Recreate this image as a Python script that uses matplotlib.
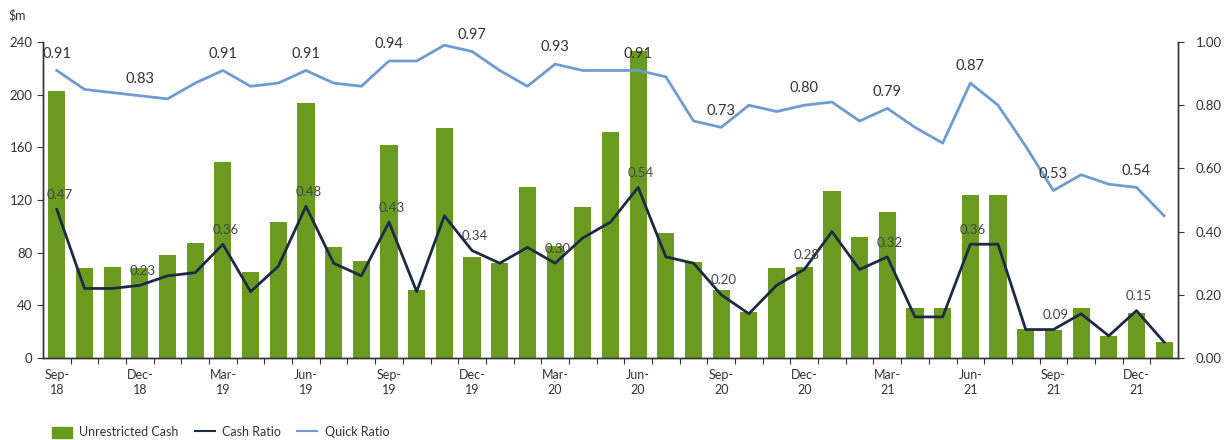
import numpy as np
import matplotlib.pyplot as plt
from matplotlib.patches import Patch
from matplotlib.lines import Line2D

plt.rcParams['font.family'] = ['Lato', 'DejaVu Sans']

# monthly points, Sep-18 .. Jan-22
months = ['Sep-18', 'Oct-18', 'Nov-18', 'Dec-18', 'Jan-19', 'Feb-19', 'Mar-19', 'Apr-19',
          'May-19', 'Jun-19', 'Jul-19', 'Aug-19', 'Sep-19', 'Oct-19', 'Nov-19', 'Dec-19',
          'Jan-20', 'Feb-20', 'Mar-20', 'Apr-20', 'May-20', 'Jun-20', 'Jul-20', 'Aug-20',
          'Sep-20', 'Oct-20', 'Nov-20', 'Dec-20', 'Jan-21', 'Feb-21', 'Mar-21', 'Apr-21',
          'May-21', 'Jun-21', 'Jul-21', 'Aug-21', 'Sep-21', 'Oct-21', 'Nov-21', 'Dec-21',
          'Jan-22']

unrestricted_cash = [203, 68, 69, 68, 78, 87, 149, 65, 103, 194, 84, 74, 162, 52, 175, 77,
                     72, 130, 85, 115, 172, 233, 95, 73, 52, 35, 68, 69, 127, 92, 111, 38,
                     38, 124, 124, 22, 21, 38, 17, 34, 12]

cash_ratio = [0.47, 0.22, 0.22, 0.23, 0.26, 0.27, 0.36, 0.21, 0.29, 0.48, 0.30, 0.26, 0.43,
              0.21, 0.45, 0.34, 0.30, 0.35, 0.30, 0.38, 0.43, 0.54, 0.32, 0.30, 0.20, 0.14,
              0.23, 0.28, 0.40, 0.28, 0.32, 0.13, 0.13, 0.36, 0.36, 0.09, 0.09, 0.14, 0.07,
              0.15, 0.05]

quick_ratio = [0.91, 0.85, 0.84, 0.83, 0.82, 0.87, 0.91, 0.86, 0.87, 0.91, 0.87, 0.86, 0.94,
               0.94, 0.99, 0.97, 0.91, 0.86, 0.93, 0.91, 0.91, 0.91, 0.89, 0.75, 0.73, 0.80,
               0.78, 0.80, 0.81, 0.75, 0.79, 0.73, 0.68, 0.87, 0.80, 0.67, 0.53, 0.58, 0.55,
               0.54, 0.45]

x = np.arange(len(months))
quarter_idx = x[::3]
quarter_labels = [m.replace('-', '-\n') for m in months[::3]]

bar_color = '#6a9a1f'
cash_color = '#1e2a45'
quick_color = '#6e9cd0'
text_color = '#333333'

fig = plt.figure(figsize=(12.24, 4.40), dpi=100)
ax = fig.add_axes([0.0351, 0.1864, 0.9273, 0.7181])
ax2 = ax.twinx()

ax.bar(x, unrestricted_cash, width=0.62, color=bar_color, zorder=2)
ax.set_xlim(-0.5, len(months) - 0.5)
ax.set_ylim(0, 240)
ax.set_yticks(np.arange(0, 241, 40))

ax2.plot(x, quick_ratio, color=quick_color, lw=2, zorder=3)
ax2.plot(x, cash_ratio, color=cash_color, lw=2, zorder=3)
ax2.set_ylim(0, 1.0)
ax2.set_yticks(np.arange(0, 1.01, 0.2))
ax2.set_yticklabels([f'{v:.2f}' for v in np.arange(0, 1.01, 0.2)])

# value labels on quarter months
for i in quarter_idx:
    ax2.annotate(f'{quick_ratio[i]:.2f}', (x[i], quick_ratio[i]), xytext=(0, 7),
                 textcoords='offset points', ha='center', va='bottom',
                 fontsize=10.5, color=text_color, zorder=4)
    ax2.annotate(f'{cash_ratio[i]:.2f}', (x[i], cash_ratio[i]), xytext=(2, 6),
                 textcoords='offset points', ha='center', va='bottom',
                 fontsize=9.5, color='#444444', zorder=4)

# month ticks between bars, quarter labels under bars
ax.set_xticks(x[:-1] + 0.5)
ax.set_xticklabels([])
ax.set_xticks(quarter_idx, minor=True)
ax.set_xticklabels(quarter_labels, minor=True, fontsize=9, color=text_color,
                   linespacing=1.3)
ax.tick_params(axis='x', which='major', length=4, direction='out', color='#333333')
ax.tick_params(axis='x', which='minor', length=0, pad=8)
ax.tick_params(axis='y', length=4, labelsize=9.5, labelcolor=text_color, color='#333333')
ax2.tick_params(axis='y', length=4, labelsize=9.5, labelcolor=text_color, color='#333333',
                pad=9)

for a in (ax, ax2):
    a.spines['top'].set_visible(False)
    for s in ('left', 'right', 'bottom'):
        a.spines[s].set_color('#333333')
        a.spines[s].set_linewidth(1.0)

fig.text(0.007, 0.966, r'\$m', fontsize=9, color=text_color, va='center')

handles = [Patch(color=bar_color, label='Unrestricted Cash'),
           Line2D([], [], color=cash_color, lw=1.5, label='Cash Ratio'),
           Line2D([], [], color=quick_color, lw=1.5, label='Quick Ratio')]
leg = fig.legend(handles=handles, loc='lower left', bbox_to_anchor=(0.033, -0.022), ncol=3,
                 frameon=False, fontsize=9, handlelength=1.6, handleheight=1.0,
                 columnspacing=1.3, handletextpad=0.6)
for t in leg.get_texts():
    t.set_color(text_color)

fig.savefig('out.png', dpi=100)
